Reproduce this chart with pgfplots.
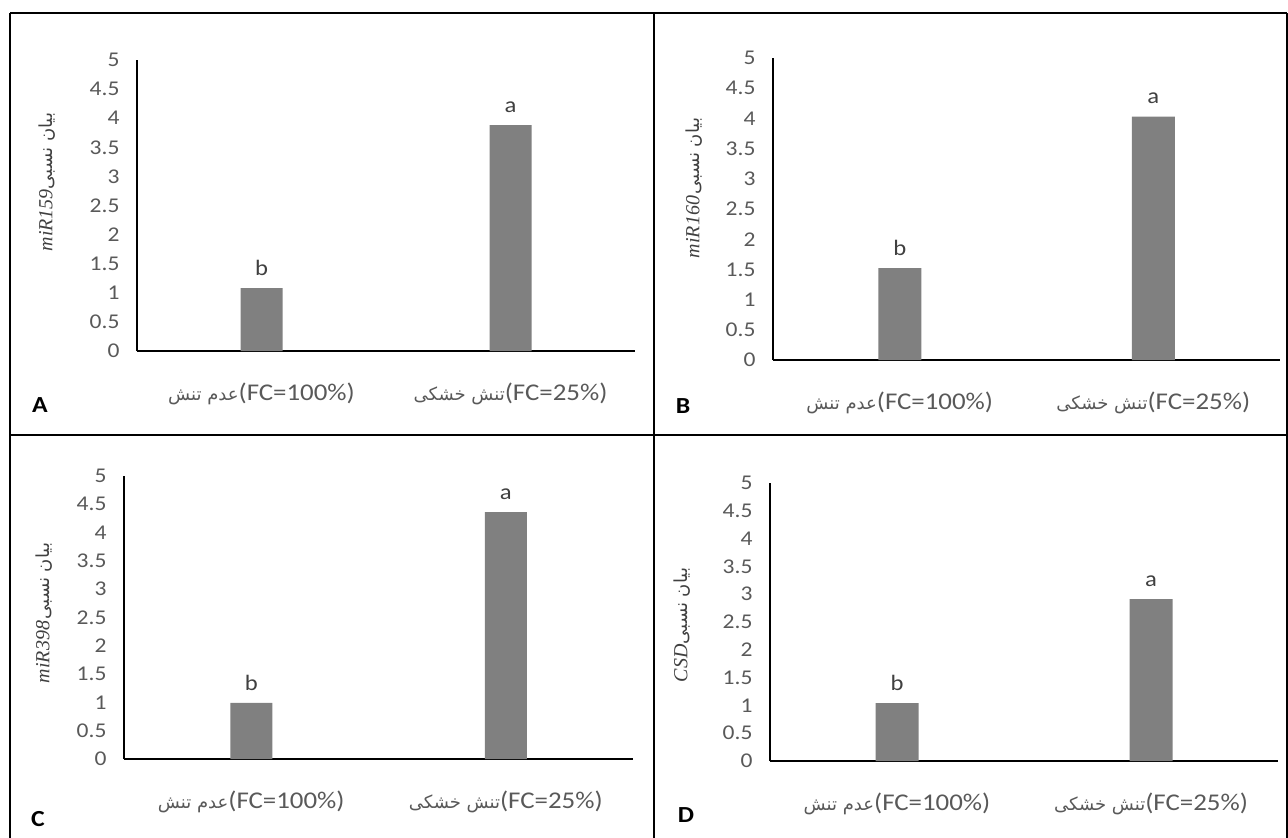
\documentclass[border=0pt]{standalone}
\usepackage{fontspec}
\usepackage{pgfplots}
\pgfplotsset{compat=1.18}
\setmainfont{Carlito}[FakeStretch=1.12]
\newfontfamily\fa[Script=Arabic]{DejaVu Sans}
\newfontfamily\tnr{Liberation Serif}
\TeXXeTstate=1
\definecolor{barc}{HTML}{808080}
\definecolor{txt}{HTML}{595959}
\definecolor{lbl}{HTML}{404040}
\newcommand{\faxl}{\fa\fontsize{18}{20}\selectfont}
\newcommand{\fayl}{\fa\fontsize{18}{20}\selectfont}
\pgfplotsset{
 panel/.style={
  scale only axis, ybar, bar width=42pt, xmin=-0.5, xmax=1.5, ymin=0, ymax=5,
  ytick={0,0.5,1,1.5,2,2.5,3,3.5,4,4.5,5}, xtick={0,1},
  xticklabels={{{\faxl\beginR عدم تنش\endR}(FC=100\%)},{{\faxl\beginR تنش خشکی\endR}(FC=25\%)}},
  axis x line*=bottom, axis y line*=left,
  axis line style={-, line width=1.3pt, black},
  major tick length=0pt,
  tick style={draw=none},
  /pgf/number format/assume math mode=true,
  yticklabel style={font=\fontsize{21}{24}\selectfont, text=txt, anchor=east, xshift=-14pt},
  xticklabel style={font=\fontsize{24}{26}\selectfont, text=txt, anchor=center, yshift=-43pt},
  clip=false,
  nodes near coords, point meta=explicit symbolic,
  every node near coord/.append style={font=\fontsize{22}{24}\selectfont, text=lbl, yshift=9pt},
 },
 barst/.style={fill=barc, draw=none},
}
\begin{document}
\begin{tikzpicture}[x=1pt,y=1pt]
\useasboundingbox (0,0) rectangle (1288,-838);
% table borders
\draw[line width=1.6pt] (10,-13) -- (1287,-13);
\draw[line width=1.6pt] (10,-435) -- (1287,-435);
\draw[line width=1.6pt] (10,-13) -- (10,-838);
\draw[line width=1.6pt] (654,-13) -- (654,-838);
\draw[line width=1.6pt] (1287,-13) -- (1287,-838);

% Panel A
\begin{axis}[panel, at={(137pt,-351pt)}, anchor=south west, width=498pt, height=291pt]
\addplot[barst] coordinates {(0,1.08) [b] (1,3.88) [a]};
\end{axis}
% Panel B
\begin{axis}[panel, at={(773pt,-360pt)}, anchor=south west, width=507pt, height=302pt, bar width=43pt]
\addplot[barst] coordinates {(0,1.52) [b] (1,4.03) [a]};
\end{axis}
% Panel C
\begin{axis}[panel, at={(124pt,-759pt)}, anchor=south west, width=509pt, height=283pt]
\addplot[barst] coordinates {(0,0.99) [b] (1,4.36) [a]};
\end{axis}
% Panel D
\begin{axis}[panel, at={(770pt,-761pt)}, anchor=south west, width=508pt, height=278pt, bar width=43pt]
\addplot[barst] coordinates {(0,1.04) [b] (1,2.91) [a]};
\end{axis}

% y labels
\node[rotate=90, text=lbl] at (47,-182) {{\tnr\itshape\fontsize{20}{22}\selectfont miR159}{\fayl\beginR بیان نسبی\endR}};
\node[rotate=90, text=lbl] at (694,-188) {{\tnr\itshape\fontsize{20}{22}\selectfont miR160}\,{\fayl\beginR بیان نسبی\endR}};
\node[rotate=90, text=lbl] at (44,-613) {{\tnr\itshape\fontsize{20}{22}\selectfont miR398}\,{\fayl\beginR بیان نسبی\endR}};
\node[rotate=90, text=lbl] at (682,-625) {{\tnr\itshape\fontsize{20}{22}\selectfont CSD}{\fayl\beginR بیان نسبی\endR}};

% panel letters
\node[font=\bfseries\fontsize{23}{26}\selectfont, anchor=base] at (40,-412) {A};
\node[font=\bfseries\fontsize{23}{26}\selectfont, anchor=base] at (683,-413) {B};
\node[font=\bfseries\fontsize{23}{26}\selectfont, anchor=base] at (38,-826) {C};
\node[font=\bfseries\fontsize{23}{26}\selectfont, anchor=base] at (686,-822) {D};
\end{tikzpicture}
\end{document}
